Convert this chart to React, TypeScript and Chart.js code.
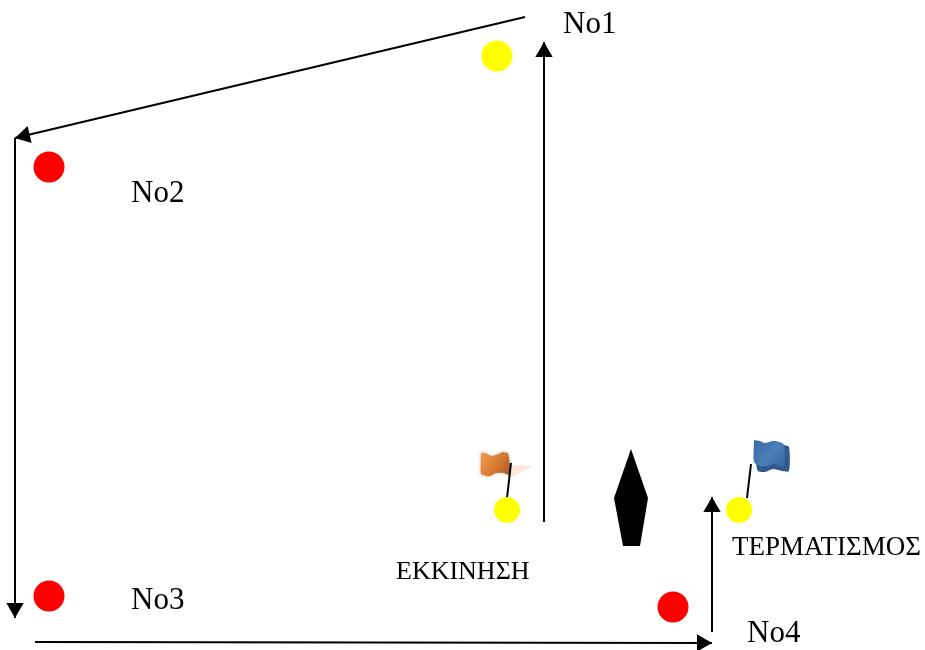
import React, { useEffect, useRef } from "react";
import { Chart, registerables } from "chart.js";

Chart.register(...registerables);

type P = { x: number; y: number };
const pts = (a: number[][]): P[] => a.map(([x, y]) => ({ x, y }));

const arrows = [
  [[544, 522], [544, 42]],
  [[525, 17], [15, 138]],
  [[15, 138], [15, 618]],
  [[35, 642], [712, 643]],
  [[712, 632], [712, 497]],
];
const bigBuoys = [[497, 56, "#ffff00"], [49, 167, "#ff0000"], [49, 596, "#ff0000"], [673, 607, "#ff0000"]];
const smallBuoys = [[507, 510], [739, 510]];
const boat = [[631, 449], [648, 498], [640, 546], [623, 546], [614, 498], [631, 449]];
const poles = [
  [[507, 498], [511, 463]],
  [[747, 498], [751, 464]],
];
const orangeShadow = [[512, 465], [533, 466], [510, 478], [512, 465]];
const orangeFlag = [[480, 452], [486, 452], [492, 455], [498, 453], [503, 451], [509, 453], [511, 476], [503, 474], [497, 474], [490, 477], [486, 477], [480, 474], [480, 452]];
const blueBack = [[784, 445], [789, 447], [789, 471], [782, 471], [773, 469], [765, 472], [758, 471], [757, 462], [784, 445]];
const blueFlag = [[754, 440], [760, 441], [765, 443], [773, 441], [780, 442], [784, 445], [784, 466], [775, 464], [767, 466], [760, 466], [754, 462], [754, 440]];
const labels = [
  ["No1", 563, 33, 31],
  ["No2", 131, 202, 31],
  ["No3", 131, 609, 31],
  ["No4", 747, 642, 31],
  ["ΕΚΚΙΝΗΣΗ", 396, 579, 26],
  ["ΤΕΡΜΑΤΙΣΜΟΣ", 732, 555, 27],
];

const HEAD = 10;

const textPlugin = {
  id: "diagramText",
  afterDatasetsDraw(chart: any) {
    const { ctx, scales } = chart;
    ctx.save();
    ctx.fillStyle = "#000";
    ctx.textAlign = "left";
    ctx.textBaseline = "alphabetic";
    for (const [t, x, y, size] of labels as [string, number, number, number][]) {
      ctx.font = `${size}px "Liberation Serif"`;
      ctx.fillText(t, scales.x.getPixelForValue(x), scales.y.getPixelForValue(y));
    }
    ctx.restore();
  },
};

const poly = (a: number[][], fill: any, border = "transparent", bw = 0, tension = 0) => ({
  type: "scatter" as const,
  data: pts(a),
  showLine: true,
  fill: "shape",
  backgroundColor: fill,
  borderColor: border,
  borderWidth: bw,
  pointRadius: 0,
  tension,
});

const grad = (x0: number, y0: number, x1: number, y1: number, stops: string[]) => (c: any) => {
  const g = c.chart.ctx.createLinearGradient(x0, y0, x1, y1);
  stops.forEach((s, i) => g.addColorStop(i / (stops.length - 1), s));
  return g;
};

export default function App() {
  const ref = useRef<HTMLCanvasElement>(null);
  useEffect(() => {
    document.body.style.margin = "0";
    document.body.style.background = "#fff";
    const datasets: any[] = [];
    datasets.push(poly(orangeShadow, "rgba(250,215,190,0.6)"));
    datasets.push(poly(orangeFlag, grad(480, 455, 511, 475, ["#f09a4c", "#d97c35", "#a9561f"]), "#eeeeee", 2, 0.25));
    datasets.push(poly(blueBack, "#2f5a8c", "transparent", 0, 0.25));
    datasets.push(poly(blueFlag, grad(754, 441, 786, 469, ["#3a6ba5", "#4a7fb8", "#35639b"]), "transparent", 0, 0.25));
    for (const a of [...arrows, ...poles]) {
      datasets.push({
        type: "scatter",
        data: pts(a),
        showLine: true,
        borderColor: "#000",
        borderWidth: 2,
        pointRadius: 0,
        fill: false,
      });
    }
    for (const a of arrows) {
      const [[x0, y0], [x1, y1]] = a;
      const len = Math.hypot(x1 - x0, y1 - y0);
      const ux = (x1 - x0) / len;
      const uy = (y1 - y0) / len;
      datasets.push({
        type: "scatter",
        data: [{ x: x1 - ux * HEAD, y: y1 - uy * HEAD }],
        pointStyle: "triangle",
        pointRadius: HEAD,
        pointRotation: (Math.atan2(uy, ux) * 180) / Math.PI + 90,
        backgroundColor: "#000",
        borderColor: "#000",
        borderWidth: 0,
      });
    }
    datasets.push(poly(boat, "#000"));
    for (const [x, y, color] of bigBuoys) {
      datasets.push({
        type: "scatter",
        data: [{ x, y }],
        pointStyle: "circle",
        pointRadius: 15.5,
        backgroundColor: color,
        borderWidth: 0,
      });
    }
    datasets.push({
      type: "scatter",
      data: pts(smallBuoys),
      pointStyle: "circle",
      pointRadius: 13,
      backgroundColor: "#ffff00",
      borderWidth: 0,
    });
    // Chart.js paints higher "order" first, so the first pushed dataset sits at the bottom.
    const chart = new Chart(ref.current!, {
      type: "scatter",
      data: { datasets: datasets.map((d, i) => ({ ...d, order: datasets.length - i })) },
      plugins: [textPlugin],
      options: {
        animation: false,
        responsive: false,
        layout: { padding: 0, autoPadding: false },
        plugins: { legend: { display: false }, tooltip: { enabled: false }, title: { display: false } },
        scales: {
          x: { type: "linear", min: 0, max: 925, display: false },
          y: { type: "linear", min: 0, max: 650, reverse: true, display: false },
        },
      } as any,
    });
    return () => chart.destroy();
  }, []);
  return <canvas ref={ref} width={925} height={650} style={{ display: "block" }} />;
}
